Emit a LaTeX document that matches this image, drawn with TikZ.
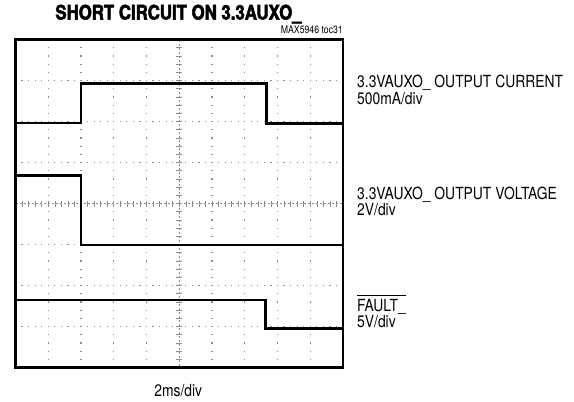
\documentclass[tikz,border=0pt]{standalone}
\usepackage{fontspec}
\newfontfamily\labfont[FakeStretch=0.83]{TeX Gyre Heros}
\newfontfamily\titfont[FakeStretch=0.84,FakeBold=2.5]{TeX Gyre Heros}
\begin{document}
\begin{tikzpicture}[x=1pt,y=-1pt,
  lab/.style={font=\labfont\fontsize{16.7}{18}\selectfont, inner sep=0pt, anchor=base west},
  trace/.style={line width=2.6pt, line join=miter, black},
  griddot/.style={fill=black!45},
  ticks/.style={draw=black!45, line width=0.6pt},
  frame/.style={draw=black, line width=2.8pt}]
\useasboundingbox (0,0) rectangle (574,402);
\fill[white] (0,0) rectangle (574,402);
% grid dots on vertical division lines
\foreach \i in {1,2,3,4,6,7,8,9} {
  \foreach \k in {1,...,39} {
    \fill[griddot] ({15.5+32.75*\i-0.6},{39.5+8.2*\k-0.6}) rectangle ++(1.2,1.2);
  }
}
% grid dots on horizontal division lines
\foreach \j in {1,2,3,5,6,7} {
  \foreach \k in {1,...,49} {
    \fill[griddot] ({15.5+6.55*\k-0.6},{39.5+41*\j-0.6}) rectangle ++(1.2,1.2);
  }
}
% centre axes with minor ticks
\draw[ticks, dash pattern=on 2pt off 2pt] (179.25,39.5) -- (179.25,367.5);
\draw[ticks, dash pattern=on 2pt off 2pt] (15.5,203.5) -- (343,203.5);
\foreach \k in {1,...,39} {
  \draw[ticks] ({179.25-3},{39.5+8.2*\k}) -- ({179.25+3},{39.5+8.2*\k});
}
\foreach \k in {1,...,49} {
  \draw[ticks] ({15.5+6.55*\k},{203.5-3}) -- ({15.5+6.55*\k},{203.5+3});
}
% traces
\draw[trace] (15.5,123) -- (81,123) -- (81,83.5) -- (266.5,83.5) -- (266.5,123.5) -- (343,123.5);
\draw[trace] (15.5,175.5) -- (81,175.5) -- (81,245) -- (343,245);
\draw[trace] (15.5,300) -- (265.7,300) -- (265.7,328.5) -- (343,328.5);
% frame
\draw[frame] (15.5,39.5) rectangle (343,367.5);
% texts
\node[font=\titfont\bfseries\fontsize{20}{22}\selectfont, inner sep=0pt, anchor=base] (title) at (178.5,19.5) {SHORT CIRCUIT ON 3.3AUXO\_};
\node[font=\labfont\fontsize{10.5}{12}\selectfont, inner sep=0pt, anchor=base east] (toc) at (343,33) {MAX5946 toc31};
\node[lab] (l1a) at (357,87.5) {3.3VAUXO\_ OUTPUT CURRENT};
\node[lab] (l1b) at (357,104.5) {500mA/div};
\node[lab] (l2a) at (357,199.3) {3.3VAUXO\_ OUTPUT VOLTAGE};
\node[lab] (l2b) at (357,215) {2V/div};
\node[lab] (l3a) at (357,311.7) {FAULT\_};
\node[lab] (l3b) at (357,327.5) {5V/div};
\draw[line width=0.8pt] ([yshift=4.3pt]l3a.north west) -- ([yshift=4.3pt]l3a.north east);
\node[lab, anchor=base] (xl) at (178.3,396) {2ms/div};
\end{tikzpicture}
\end{document}
